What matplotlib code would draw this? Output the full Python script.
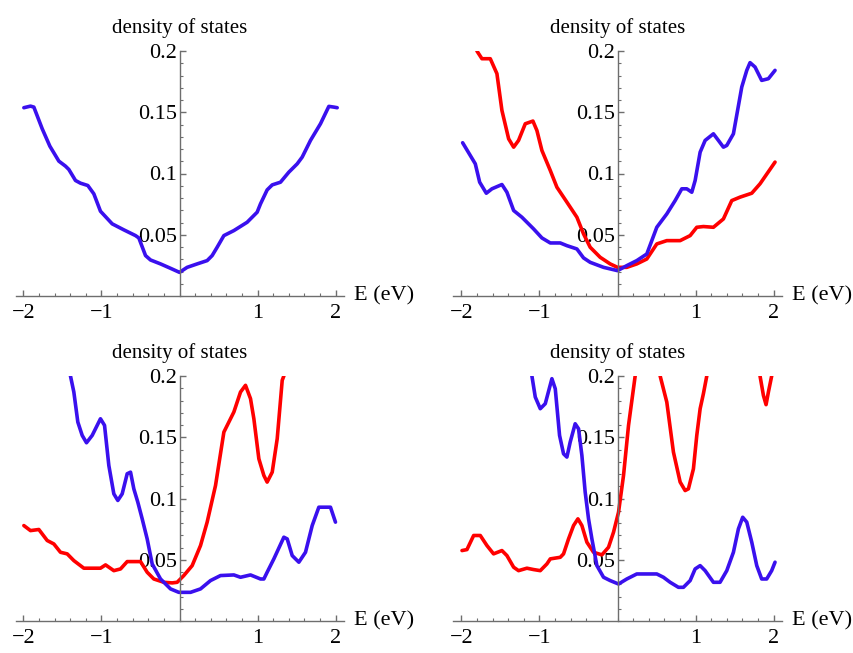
import numpy as np
import matplotlib
matplotlib.use("Agg")
import matplotlib.pyplot as plt
from matplotlib.ticker import MultipleLocator, FixedLocator

# ---------------- data ----------------
p1_blue_x = [-1.993,-1.908,-1.865,-1.758,-1.660,-1.545,-1.460,-1.417,-1.332,-1.268,-1.174,-1.097,-1.012,-0.862,-0.713,-0.563,-0.521,-0.435,-0.371,-0.243,-0.115,0.0,0.098,0.226,0.354,0.418,0.482,0.568,0.696,0.866,0.994,1.037,1.122,1.187,1.293,1.400,1.507,1.571,1.677,1.805,1.912,1.976,2.019]
p1_blue_y = [0.1537,0.155,0.1542,0.1365,0.1223,0.1101,0.106,0.1033,0.0943,0.0921,0.0902,0.0834,0.0692,0.0589,0.0540,0.0493,0.0474,0.033,0.0294,0.0262,0.0226,0.0193,0.0234,0.0262,0.0289,0.033,0.0398,0.0493,0.0534,0.0602,0.0684,0.0752,0.0866,0.0907,0.0929,0.1011,0.1079,0.1134,0.127,0.1406,0.1548,0.1542,0.1537]

p2_blue_x = [-1.983,-1.821,-1.765,-1.680,-1.608,-1.480,-1.416,-1.330,-1.224,-1.075,-0.968,-0.861,-0.733,-0.648,-0.520,-0.435,-0.350,-0.179,0.0,0.119,0.247,0.375,0.503,0.631,0.738,0.823,0.887,0.951,0.994,1.058,1.122,1.228,1.292,1.356,1.399,1.484,1.591,1.655,1.697,1.761,1.846,1.932,2.017]
p2_blue_y = [0.1251,0.1079,0.0929,0.0839,0.0875,0.091,0.0847,0.0698,0.0643,0.0548,0.0474,0.0433,0.0433,0.0411,0.0384,0.0311,0.0275,0.0234,0.0207,0.0248,0.0289,0.0343,0.0561,0.067,0.0779,0.0875,0.0875,0.0847,0.0943,0.1174,0.127,0.1324,0.127,0.1215,0.1229,0.1324,0.1706,0.1842,0.1905,0.1869,0.176,0.1774,0.1842]
p2_red_x = [-1.800,-1.736,-1.629,-1.544,-1.480,-1.394,-1.330,-1.267,-1.181,-1.083,-1.032,-0.968,-0.861,-0.776,-0.648,-0.520,-0.435,-0.350,-0.222,-0.094,0.0,0.119,0.247,0.375,0.503,0.631,0.802,0.930,1.015,1.100,1.228,1.356,1.463,1.569,1.719,1.825,2.017]
p2_red_y = [0.2,0.1937,0.1937,0.1815,0.1515,0.1283,0.1215,0.127,0.1406,0.1428,0.1351,0.1188,0.1025,0.0888,0.0766,0.0643,0.0507,0.0398,0.0316,0.0262,0.0234,0.0234,0.0262,0.0302,0.0425,0.0452,0.0452,0.0493,0.0561,0.0567,0.0561,0.0629,0.0779,0.0807,0.0839,0.0916,0.1093]

p3_blue_x = [-1.44,-1.396,-1.353,-1.302,-1.246,-1.191,-1.118,-1.012,-0.960,-0.905,-0.841,-0.790,-0.734,-0.670,-0.627,-0.585,-0.534,-0.478,-0.414,-0.350,-0.243,-0.115,-0.009,0.141,0.269,0.397,0.525,0.696,0.781,0.909,1.037,1.080,1.122,1.208,1.336,1.379,1.443,1.528,1.613,1.699,1.784,1.869,1.933,1.997]
p3_blue_y = [0.24,0.2,0.1869,0.1624,0.1515,0.1455,0.1515,0.1651,0.1597,0.127,0.1038,0.0984,0.1038,0.1202,0.1215,0.1079,0.097,0.0834,0.067,0.0466,0.0343,0.0262,0.0234,0.0234,0.0262,0.033,0.0371,0.0376,0.0357,0.0376,0.0343,0.0343,0.0398,0.0507,0.0684,0.067,0.0534,0.048,0.0561,0.0779,0.0929,0.0929,0.0929,0.0807]
p3_red_x = [-1.993,-1.908,-1.801,-1.694,-1.609,-1.524,-1.438,-1.353,-1.225,-1.012,-0.947,-0.841,-0.755,-0.670,-0.499,-0.414,-0.329,-0.201,-0.094,-0.030,0.055,0.162,0.269,0.354,0.461,0.568,0.696,0.781,0.845,0.909,0.952,1.016,1.080,1.122,1.187,1.251,1.315,1.336,1.40]
p3_red_y = [0.0779,0.0738,0.0747,0.0657,0.0629,0.0561,0.0548,0.0493,0.0431,0.0431,0.0458,0.0411,0.0425,0.0485,0.0485,0.0398,0.0343,0.0316,0.0311,0.0316,0.0371,0.0452,0.0616,0.0807,0.1106,0.1542,0.1706,0.1869,0.1924,0.1815,0.1651,0.1324,0.1188,0.1134,0.1215,0.1488,0.1965,0.2,0.26]

p4_blue_x = [-1.13,-1.096,-1.053,-0.989,-0.925,-0.840,-0.797,-0.742,-0.691,-0.648,-0.606,-0.542,-0.499,-0.456,-0.414,-0.371,-0.328,-0.264,-0.179,-0.094,0.013,0.119,0.247,0.503,0.588,0.674,0.780,0.844,0.930,0.994,1.058,1.122,1.228,1.313,1.399,1.484,1.548,1.603,1.655,1.719,1.783,1.846,1.910,1.974,2.017]
p4_blue_y = [0.23,0.2,0.1828,0.1733,0.1774,0.1978,0.1896,0.1515,0.1365,0.1338,0.146,0.161,0.1569,0.1351,0.1052,0.0834,0.067,0.0452,0.0357,0.033,0.0302,0.0343,0.0384,0.0384,0.0357,0.0316,0.0275,0.0275,0.033,0.0425,0.0452,0.0411,0.0316,0.0316,0.0411,0.0561,0.0752,0.0847,0.0807,0.0643,0.0452,0.0343,0.0343,0.0411,0.048]
p4_red_x = [-1.991,-1.928,-1.842,-1.757,-1.672,-1.587,-1.480,-1.416,-1.330,-1.267,-1.160,-1.075,-0.989,-0.904,-0.861,-0.733,-0.691,-0.627,-0.563,-0.507,-0.456,-0.392,-0.307,-0.200,-0.115,-0.051,0.013,0.077,0.141,0.226,0.30,0.39,0.47,0.546,0.631,0.716,0.802,0.866,0.908,0.972,1.015,1.058,1.100,1.143,1.25,1.50,1.75,1.825,1.868,1.902,1.932,1.974,2.02]
p4_red_y = [0.0575,0.0583,0.0698,0.0698,0.0616,0.0548,0.0575,0.0534,0.0439,0.0411,0.0431,0.042,0.0411,0.0466,0.0507,0.052,0.0548,0.067,0.0779,0.0834,0.0779,0.0643,0.0561,0.054,0.0602,0.0725,0.0888,0.1188,0.1597,0.2,0.26,0.30,0.26,0.2,0.1787,0.1379,0.1134,0.1065,0.1079,0.1242,0.1515,0.1733,0.1856,0.2,0.26,0.32,0.26,0.2,0.1842,0.1766,0.1869,0.2,0.23]

x_ticks = [-2, -1, 1, 2]
x_ticklabels = ["\u22122", "\u22121", "1", "2"]
y_ticks = [0.05, 0.1, 0.15, 0.2]
y_ticklabels = ["0.05", "0.1", "0.15", "0.2"]
title_text = "density of states"
xlabel_text = "E (eV)"

BLUE = "#3a10ee"
RED = "#ff0000"
AXC = "#6e6e6e"
FONT = "Liberation Serif"

panels = [
    ([(p1_blue_x, p1_blue_y, BLUE)]),
    ([(p2_red_x, p2_red_y, RED), (p2_blue_x, p2_blue_y, BLUE)]),
    ([(p3_red_x, p3_red_y, RED), (p3_blue_x, p3_blue_y, BLUE)]),
    ([(p4_red_x, p4_red_y, RED), (p4_blue_x, p4_blue_y, BLUE)]),
]

fig = plt.figure(figsize=(8.54, 6.53), dpi=100)
W, H = 854.0, 653.0
# (left px of x=-2.1, pixel y of y=0) for each panel
origins = [(15.5, 296.0), (453.5, 296.0), (15.5, 621.0), (453.5, 621.0)]
wpx = 4.2 * 78.1
hpx = 245.0

for (lx, oy), series in zip(origins, panels):
    ax = fig.add_axes([lx / W, (H - oy) / H, wpx / W, hpx / H])
    for xs, ys, c in series:
        ax.plot(xs, ys, color=c, lw=2.6, solid_joinstyle="round", solid_capstyle="round")
    ax.set_xlim(-2.1, 2.1)
    ax.set_ylim(0, 0.2)
    for s in ("top", "right"):
        ax.spines[s].set_visible(False)
    ax.spines["left"].set_position(("data", 0))
    ax.spines["bottom"].set_position(("data", 0))
    for s in ("left", "bottom"):
        ax.spines[s].set_color(AXC)
        ax.spines[s].set_linewidth(1.0)
    ax.xaxis.set_major_locator(FixedLocator(x_ticks))
    ax.set_xticklabels(x_ticklabels, fontfamily=FONT, fontsize=16)
    ax.xaxis.set_minor_locator(MultipleLocator(0.2))
    ax.yaxis.set_major_locator(FixedLocator(y_ticks))
    ax.set_yticklabels(y_ticklabels, fontfamily=FONT, fontsize=16)
    ax.yaxis.set_minor_locator(MultipleLocator(0.01))
    ax.tick_params(axis="x", which="major", direction="in", length=4.5, width=1, color=AXC, pad=6)
    ax.tick_params(axis="x", which="minor", direction="in", length=2.5, width=0.8, color=AXC)
    ax.tick_params(axis="y", which="major", direction="in", length=4.5, width=1, color=AXC, pad=2)
    ax.tick_params(axis="y", which="minor", direction="in", length=2.5, width=0.8, color=AXC)
    ax.patch.set_visible(False)
    ax.text(0.0, 0.2 + 0.0145, title_text, ha="center", va="baseline",
            fontfamily=FONT, fontsize=15, clip_on=False)
    ax.text(2.23, 0.0, xlabel_text, ha="left", va="center",
            fontfamily=FONT, fontsize=16, clip_on=False)

fig.savefig("out.png", dpi=100)
